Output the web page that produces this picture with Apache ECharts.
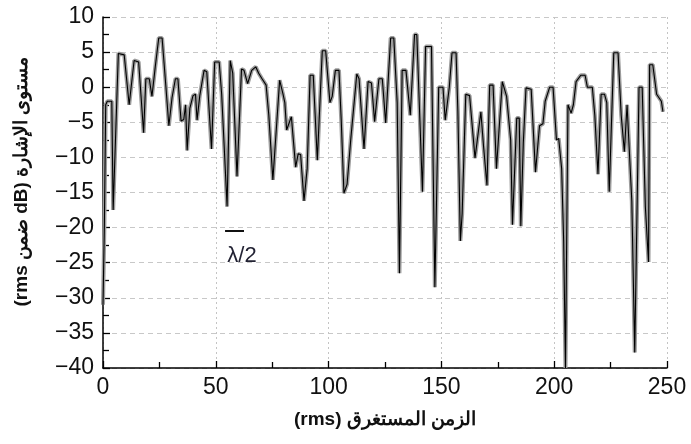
<!DOCTYPE html>
<html>
<head>
<meta charset="utf-8">
<script src="https://cdn.jsdelivr.net/npm/echarts@6/dist/echarts.min.js"></script>
<style>
html,body{margin:0;padding:0;background:#fff;}
#chart{width:691px;height:444px;}
</style>
</head>
<body>
<div id="chart"></div>
<script>
// Elapsed time (x) and signal level in dB (y)
const timeValues = [
  0, 0.6, 1.2, 1.9, 3.9, 4.5, 6.8, 9.4, 11.6, 13.8, 15.8, 18.0, 19.0, 20.5, 21.7, 23.2, 24.7, 26.2, 27.9, 29.2,
  30.6, 32.1, 33.2, 34.6, 35.8, 36.6, 37.3, 38.5, 39.9, 41.0, 41.7, 42.9, 44.8, 46.0, 48.1, 49.5, 51.5, 52.6, 55.0, 56.4,
  57.5, 59.4, 61.4, 62.5, 64.1, 65.9, 67.7, 69.0, 70.5, 72.3, 73.5, 75.3, 78.3, 79.8, 80.6, 81.4, 83.5, 84.5, 85.4, 86.5,
  87.6, 89.1, 90.5, 91.8, 93.2, 95.0, 97.2, 98.7, 100.6, 101.6, 103.0, 104.6, 105.6, 106.8, 108.2, 109.8, 110.5, 112.5, 113.5, 115.7,
  117.5, 119.0, 120.4, 122.3, 123.8, 125.3, 127.5, 128.9, 130.4, 131.4, 132.6, 134.3, 136.2, 138.1, 139.1, 141.6, 143.0, 145.6, 147.1, 148.8,
  150.7, 151.7, 153.5, 154.7, 156.5, 157.3, 158.4, 159.2, 160.8, 162.5, 164.9, 167.5, 168.7, 170.2, 171.4, 172.9, 174.4, 177.0, 178.9, 180.7,
  181.5, 182.2, 183.4, 184.5, 185.2, 186.3, 187.5, 189.8, 191.7, 193.5, 195.0, 196.0, 198.0, 199.5, 201.0, 202.0, 203.3, 204.2, 205.0, 206.1,
  207.5, 208.5, 209.7, 211.8, 213.7, 214.7, 216.9, 218.0, 219.4, 220.8, 222.3, 223.3, 224.4, 226.4, 228.3, 229.7, 231.1, 232.3, 234.4, 235.7,
  237.6, 239.0, 240.4, 241.8, 242.3, 243.7, 245.4, 247.5, 248.2
];
const levelValues = [
  -31, -20, -2.5, -2, -2, -17.5, 4.8, 4.6, -2.5, 3.8, 3.6, -6.5, 1.2, 1.2, -1.3, 3, 7, 7, 0, -5.5,
  -1.5, 1.2, 1.2, -4.8, -4.6, -2.5, -9, -3, -1.2, -1.0, -4.7, -1.2, 2.4, 2.2, -8.8, 3.6, 3.6, -1.0, -17, 3.8,
  2, -12.7, 2.6, 2.4, 0.5, 2.4, 2.9, 2, 1.2, 0.3, -4, -13.2, 1.0, -1.0, -2.2, -6.1, -4.2, -8, -11.4, -9.5,
  -9.6, -16.2, -11.6, 1.7, 1.7, -10.4, 5.2, 5.2, -2.2, -1.3, 2.4, 2.4, -4.7, -15.1, -13.8, -7.5, -7.5, 1.9, 1.2, -8.8,
  0.8, 0.6, -4.9, 1.2, 1.2, -5.1, 7, 7, -2.2, -26.5, 2.4, 2.4, -4, 7.5, 7.5, -14.9, 5.8, 5.8, -28.5, 0,
  0, -4.7, 0, 4.9, 4.9, -3.4, -21.9, -18, -1, -1.2, -10.1, -3.5, -8.5, -14, 0.3, 0.3, -11.6, 0.8, -1.3, -7.5,
  -19.6, -19.6, -4.4, -4.4, -19.8, -8, -0.1, -0.3, -12.1, -5.5, -5.2, -2, 0, 0, -7.5, -7.3, -11.6, -22, -40, -2.5,
  -3.7, -2.5, 0.8, 1.7, 1.7, 0, 0, -4, -12.4, -1, -1, -2.2, -14.9, 4.9, 4.9, -4, -9.2, -2.5, -16.2, -37.8,
  0, 0, -17, -24.9, 3.2, 3.2, -1, -2, -3.5
];
const xTicks = { min: 0, max: 250, step: 50 };
const yTicks = { min: -40, max: 10, step: 5 };
const xName = '(rms) الزمن المستغرق';
const yName = '(rms ضمن dB) مستوى الإشارة';
const markText = 'λ/2';
const markBar = [[54.1, -20.4], [62.5, -20.4]];
const markTextPos = [61.6, -24.1];

const seriesData = timeValues.map((t, i) => [t, levelValues[i]]);

const chart = echarts.init(document.getElementById('chart'), null, { renderer: 'canvas' });
const labelFont = 'Liberation Sans, Arial, sans-serif';
chart.setOption({
  animation: false,
  backgroundColor: '#ffffff',
  grid: { left: 103, right: 24, top: 17, bottom: 76, containLabel: false },
  xAxis: {
    type: 'value',
    min: xTicks.min, max: xTicks.max, interval: xTicks.step,
    name: xName,
    nameLocation: 'middle',
    nameGap: 42,
    nameTextStyle: { fontFamily: labelFont, fontWeight: 'bold', fontSize: 19, color: '#111' },
    axisLine: { onZero: false, lineStyle: { color: '#000', width: 1.5 } },
    axisTick: { inside: true, length: 7, lineStyle: { color: '#000', width: 1.3 } },
    minorTick: { show: true, splitNumber: 2, length: 6, lineStyle: { color: '#000', width: 1.3 } },
    axisLabel: { fontFamily: labelFont, fontSize: 23, color: '#111', margin: 8 },
    splitLine: { show: true, lineStyle: { color: '#c4c4c4', type: [2, 3], width: 1 } }
  },
  yAxis: {
    type: 'value',
    min: yTicks.min, max: yTicks.max, interval: yTicks.step,
    name: yName,
    nameLocation: 'middle',
    nameGap: 72,
    nameRotate: 90,
    nameTextStyle: { fontFamily: labelFont, fontWeight: 'bold', fontSize: 19, color: '#111', padding: [0, 0, 0, 22] },
    axisLine: { show: true, onZero: false, lineStyle: { color: '#000', width: 1.5 } },
    axisTick: { show: true, inside: true, length: 7, lineStyle: { color: '#000', width: 1.3 } },
    minorTick: { show: true, splitNumber: 2, length: 6, lineStyle: { color: '#000', width: 1.3 } },
    axisLabel: {
      fontFamily: labelFont, fontSize: 23, color: '#111', margin: 9,
      formatter: v => String(v).replace('-', '\u2212')
    },
    splitLine: { show: true, lineStyle: { color: '#c8c8c8', type: [5, 4], width: 1 } }
  },
  series: [
    {
      type: 'line',
      data: seriesData,
      symbol: 'none',
      silent: true,
      z: 2,
      lineStyle: { color: '#9c9c9c', width: 4 }
    },
    {
      type: 'line',
      data: seriesData,
      symbol: 'none',
      silent: true,
      z: 3,
      lineStyle: { color: '#000', width: 1.1 },
      markLine: {
        silent: true,
        symbol: 'none',
        label: { show: false },
        lineStyle: { color: '#111', width: 2, type: 'solid' },
        data: [[{ coord: markBar[0] }, { coord: markBar[1] }]]
      },
      markPoint: {
        silent: true,
        symbolSize: 0,
        label: { show: true, position: 'inside', formatter: markText, fontFamily: labelFont, fontSize: 22, color: '#223' },
        data: [{ coord: markTextPos }]
      }
    }
  ]
});
</script>
</body>
</html>
